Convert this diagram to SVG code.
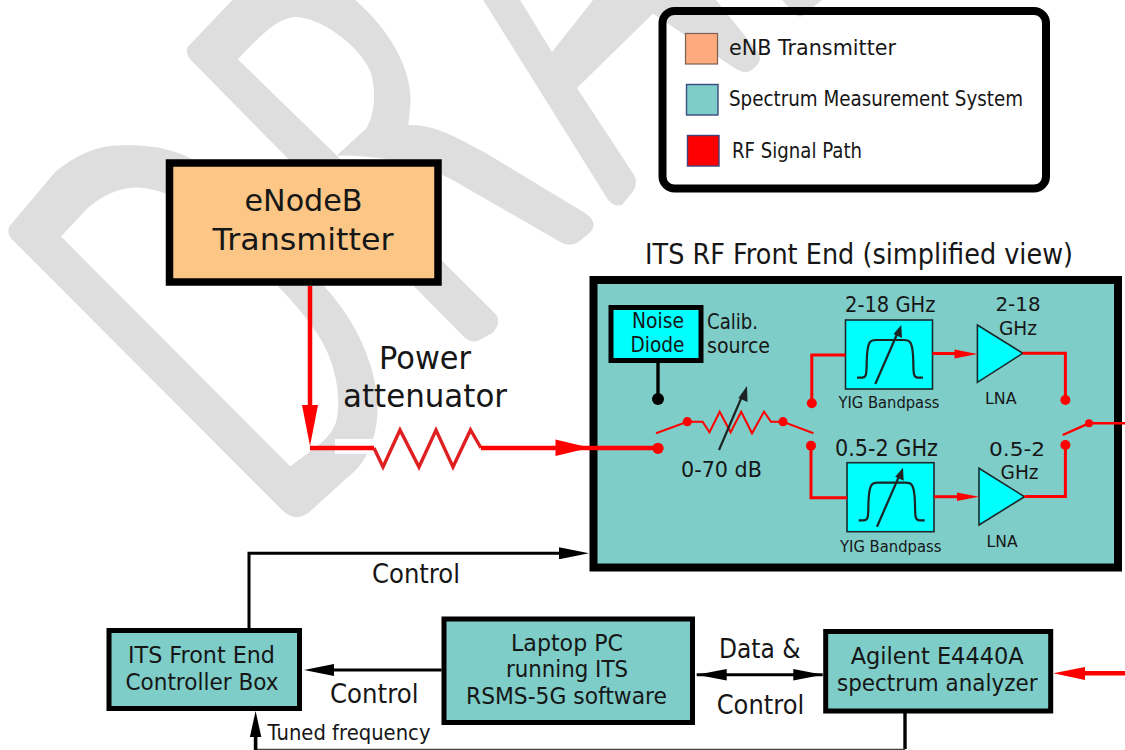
<svg xmlns="http://www.w3.org/2000/svg" width="1125" height="750" viewBox="0 0 1125 750">
<style>
text{font-family:"DejaVu Sans","Liberation Sans",sans-serif;fill:#161616;text-anchor:start}
.wm{fill:#dedede;fill-rule:evenodd}
.box{fill:#7ecdc8;stroke:#000;stroke-width:5}
.cy{fill:#0ff;stroke:#1a2a2a;stroke-width:1.6}
.rf{fill:none;stroke:#f00;stroke-width:3}
.rfm{fill:none;stroke:#f00;stroke-width:4.5}
.bk{fill:none;stroke:#000;stroke-width:3}
.thin{fill:none;stroke:#1c2424;stroke-width:2.2}
.rd{fill:#f00}
.bf{fill:#000}
</style>
<defs>
<marker id="hb" markerUnits="userSpaceOnUse" markerWidth="30" markerHeight="12" refX="12" refY="6" orient="auto"><path d="M0,0L30,6L0,12Z" fill="#000"/></marker>
<g id="filter"><path class="thin" d="M857,377.7H862C868,377.7 866,370 867,355C868,342 870,340 876,340H904C910,340 912,342 913,355C914,370 912,377.7 918,377.7H923"/><path class="thin" d="M875.3,384L898,332"/><path d="M901.3,325L902,338L893.5,334Z" fill="#1c2424"/></g>
</defs>
<g id="watermark">
<g transform="scale(.4209 .338)">
<path class="wm" d="M22,670Q15,690 30,710L675,1515Q705,1545 735,1515L850,1385C900,1310 910,1200 880,1080C850,960 800,880 720,780L470,480C400,430 340,430 290,430C220,430 170,470 130,510ZM145,700L205,620C250,570 290,555 330,555C390,560 450,600 520,680C620,800 700,880 760,1000C800,1080 810,1180 800,1240C790,1300 740,1330 690,1380Z"/>
<path class="wm" d="M445,140L560,-10H835C930,90 980,210 975,310L970,370C1030,365 1090,410 1150,450L1390,630Q1425,660 1400,690L1375,715Q1355,733 1330,715L1100,550C1010,480 900,460 800,460L1178,930Q1192,955 1170,985L1140,1005Q1125,1018 1105,1000L455,180Q440,160 445,140ZM565,175L800,460L870,380C890,340 895,270 880,210C850,130 760,50 700,50C660,55 630,90 565,175Z"/>
</g>
<path class="wm" d="M480,-5L605,195Q612,208 622,205L634,190Q638,182 634,175L577,88L672,-5H597L552,52L517,-5Z"/>
<path class="wm" d="M640,5L730,65Q745,76 752,70L758,64Q762,58 758,52L712,-5H650Z"/>
<path class="wm" d="M782,0L795,14Q800,19 805,14L822,0Z"/>
<rect x="335" y="439" width="38" height="15" fill="#fff"/>
</g>
<g id="legend">
<rect x="662.5" y="11" width="383.5" height="177.5" rx="12" fill="none" stroke="#000" stroke-width="8"/>
<rect x="685.5" y="33.5" width="32" height="30.5" fill="#fdaa7e" stroke="#7a5e52" stroke-width="1.2"/>
<rect x="686.5" y="84.5" width="31.5" height="30.5" fill="#7ecdc8" stroke="#3b4a80" stroke-width="1.4"/>
<rect x="687.5" y="135.5" width="31.5" height="30.5" fill="#f00" stroke="#40407a" stroke-width="1.4"/>
<text x="729" y="55" font-size="22" textLength="167" lengthAdjust="spacingAndGlyphs">eNB Transmitter</text>
<text x="729" y="106" font-size="21" textLength="294" lengthAdjust="spacingAndGlyphs">Spectrum Measurement System</text>
<text x="732" y="157.5" font-size="21" textLength="130" lengthAdjust="spacingAndGlyphs">RF Signal Path</text>
</g>
<g id="enodeb">
<rect x="169.5" y="163" width="268.5" height="119" fill="#fcc687" stroke="#000" stroke-width="7.5"/>
<text x="244.5" y="211" font-size="31" textLength="118" lengthAdjust="spacingAndGlyphs">eNodeB</text>
<text x="212.5" y="250" font-size="31" textLength="181" lengthAdjust="spacingAndGlyphs">Transmitter</text>
</g>
<g id="rf-front-end">
<text x="645" y="264" font-size="28" textLength="428" lengthAdjust="spacingAndGlyphs">ITS RF Front End (simplified view)</text>
<rect x="593.5" y="280" width="524.5" height="287.5" fill="#7ecdc8" stroke="#000" stroke-width="8"/>
<text x="707" y="329" font-size="20.5" textLength="51" lengthAdjust="spacingAndGlyphs">Calib.</text>
<text x="707" y="352.5" font-size="20.5" textLength="63" lengthAdjust="spacingAndGlyphs">source</text>
<text x="681" y="476.5" font-size="22" textLength="81" lengthAdjust="spacingAndGlyphs">0-70 dB</text>
</g>
<g id="noise-diode">
<rect x="611" y="307.5" width="90" height="53" fill="#0ff" stroke="#000" stroke-width="5"/>
<text x="632" y="328" font-size="20.5" textLength="52" lengthAdjust="spacingAndGlyphs">Noise</text>
<text x="630.5" y="352" font-size="20.5" textLength="54" lengthAdjust="spacingAndGlyphs">Diode</text>
</g>
<g id="yig-top">
<rect class="cy" x="845.5" y="320" width="87" height="69"/>
<use href="#filter"/>
<text x="845" y="311.5" font-size="21.5" textLength="90.5" lengthAdjust="spacingAndGlyphs">2-18 GHz</text>
<text x="838.5" y="408" font-size="16.5" textLength="101" lengthAdjust="spacingAndGlyphs">YIG Bandpass</text>
</g>
<g id="lna-top">
<path class="cy" d="M977.4,325V382.3L1022.8,353.3Z"/>
<text x="995.5" y="311" font-size="20" textLength="45" lengthAdjust="spacingAndGlyphs">2-18</text>
<text x="999" y="335" font-size="20" textLength="38" lengthAdjust="spacingAndGlyphs">GHz</text>
<text x="985" y="404" font-size="16.5" textLength="31.5" lengthAdjust="spacingAndGlyphs">LNA</text>
</g>
<g id="yig-bottom">
<rect class="cy" x="847" y="462.7" width="87" height="69"/>
<use href="#filter" transform="translate(1.7 142.7)"/>
<text x="835" y="456" font-size="23" textLength="103" lengthAdjust="spacingAndGlyphs">0.5-2 GHz</text>
<text x="840" y="551.5" font-size="16.5" textLength="101.5" lengthAdjust="spacingAndGlyphs">YIG Bandpass</text>
</g>
<g id="lna-bottom">
<path class="cy" d="M979,468.3V525L1024.5,496.7Z"/>
<text x="989" y="455.5" font-size="20" textLength="56" lengthAdjust="spacingAndGlyphs">0.5-2</text>
<text x="1000.6" y="479" font-size="20" textLength="38" lengthAdjust="spacingAndGlyphs">GHz</text>
<text x="986.6" y="546.5" font-size="16.5" textLength="31" lengthAdjust="spacingAndGlyphs">LNA</text>
</g>
<g id="controller-box">
<rect class="box" x="109" y="630.5" width="190.5" height="78"/>
<text x="128" y="662.5" font-size="23.5" textLength="147" lengthAdjust="spacingAndGlyphs">ITS Front End</text>
<text x="125.5" y="690" font-size="23.5" textLength="153" lengthAdjust="spacingAndGlyphs">Controller Box</text>
</g>
<g id="laptop">
<rect class="box" x="444" y="619" width="248.5" height="103.5"/>
<text x="511" y="650.5" font-size="23.5" textLength="112" lengthAdjust="spacingAndGlyphs">Laptop PC</text>
<text x="506" y="676.5" font-size="23.5" textLength="122" lengthAdjust="spacingAndGlyphs">running ITS</text>
<text x="466" y="704" font-size="23.5" textLength="201" lengthAdjust="spacingAndGlyphs">RSMS-5G software</text>
</g>
<g id="analyzer">
<rect class="box" x="825.7" y="631.5" width="225" height="79.5"/>
<text x="850.7" y="664" font-size="23.5" textLength="173" lengthAdjust="spacingAndGlyphs">Agilent E4440A</text>
<text x="837" y="691" font-size="23.5" textLength="200.5" lengthAdjust="spacingAndGlyphs">spectrum analyzer</text>
</g>
<g id="connectors">
<path class="rfm" d="M310,286V430"/>
<path class="rd" d="M302,405H318L310,446Z"/>
<path class="rfm" d="M310,448H374"/>
<path d="M374,448L383,467L400,430L419,467L436,430L453,467L470.5,430L481,448" fill="none" stroke="#e02020" stroke-width="3.4"/>
<path class="rfm" d="M481,448H658"/>
<path class="rd" d="M555.5,439.5L590,447.8L555.5,456Z"/>
<circle class="rd" cx="658" cy="448.3" r="5.6"/>
<path class="bk" d="M658,363V399" style="stroke-width:3.4"/>
<circle class="bf" cx="658" cy="399" r="6"/>
<path class="rf" d="M656,433.3L687.3,421.7H702.6L709.5,432.3L719.7,411.7L730.6,432.3L741.2,411.7L752,433.3L764,411.7L771,421.7H783L813.5,433.3" style="stroke-width:2"/>
<circle class="rd" cx="687.3" cy="421.7" r="4.6"/>
<circle class="rd" cx="783" cy="421.7" r="4.6"/>
<path class="thin" d="M719,450L743,394"/>
<path d="M747,386L747.5,402L738.5,398Z" fill="#1c2424"/>
<path class="rf" d="M811.8,403.3V355H845.5"/>
<circle class="rd" cx="811.8" cy="403.3" r="5"/>
<path class="rf" d="M811,445.7V497.7H847"/>
<circle class="rd" cx="811" cy="445.7" r="5"/>
<path class="rf" d="M932.5,353.5H960"/>
<path class="rd" d="M954.5,349.5L977.4,354L954.5,358.5Z"/>
<path class="rf" d="M934,496.7H962"/>
<path class="rd" d="M957,492.5L979,496.7L957,501Z"/>
<path class="rf" d="M1022.8,353.3H1065.4V400"/>
<circle class="rd" cx="1065.4" cy="400" r="5"/>
<path class="rf" d="M1024.5,496.5H1065.4V445"/>
<circle class="rd" cx="1065.4" cy="445" r="5"/>
<path class="rf" d="M1062.7,435L1089,423.3H1125" style="stroke-width:2.4"/>
<circle class="rd" cx="1089" cy="423.3" r="4"/>
<path class="bk" d="M249,629V553.3H571" marker-end="url(#hb)"/>
<path class="bk" d="M441.6,670H322" marker-end="url(#hb)"/>
<path class="bk" d="M696.7,674.7H822.7"/>
<path class="bf" d="M696.7,674.7L726.7,669L726.7,680.4ZM822.7,674.7L793.3,669L793.3,680.4Z"/>
<path class="bk" d="M905,713V749" style="stroke-width:3.4"/>
<path d="M255.6,749.5H905" fill="none" stroke="#444" stroke-width="1.5"/>
<path class="bk" d="M255.6,750V730" style="stroke-width:3.6"/>
<path class="bf" d="M255.6,711L261.3,737H249.9Z"/>
<path class="rfm" d="M1125,673.3H1075"/>
<path class="rd" d="M1053.3,673.3L1085,667V680Z"/>
<text x="372" y="582.5" font-size="26" textLength="88" lengthAdjust="spacingAndGlyphs">Control</text>
<text x="330" y="703" font-size="26" textLength="88.5" lengthAdjust="spacingAndGlyphs">Control</text>
<text x="719" y="657.5" font-size="26" textLength="81.5" lengthAdjust="spacingAndGlyphs">Data &amp;</text>
<text x="716.7" y="713.5" font-size="26" textLength="87.5" lengthAdjust="spacingAndGlyphs">Control</text>
<text x="267.5" y="740" font-size="21" textLength="163" lengthAdjust="spacingAndGlyphs">Tuned frequency</text>
<text x="379" y="369" font-size="32" textLength="92" lengthAdjust="spacingAndGlyphs">Power</text>
<text x="343" y="407" font-size="32" textLength="164" lengthAdjust="spacingAndGlyphs">attenuator</text>
</g>
</svg>
